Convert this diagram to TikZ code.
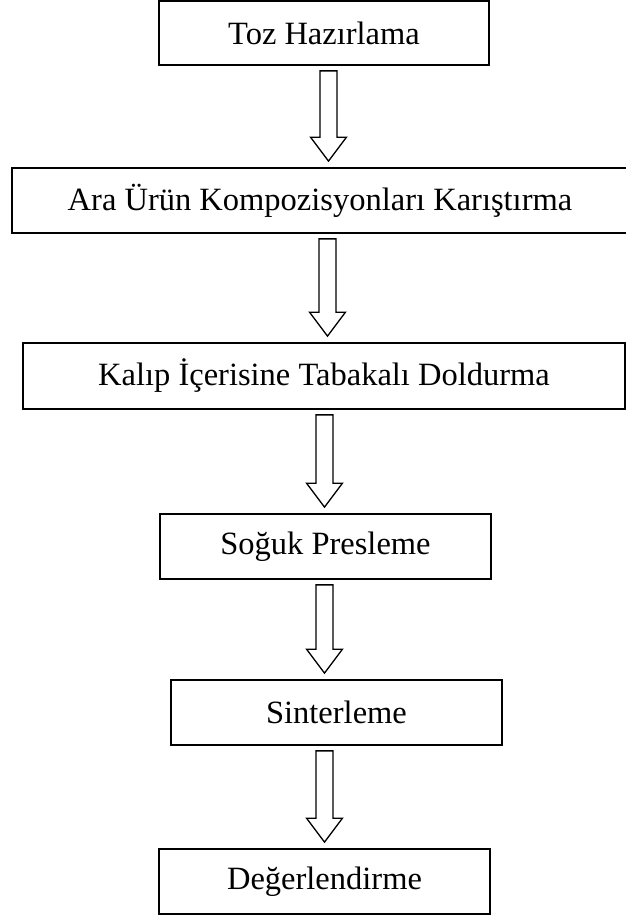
\documentclass[tikz,border=0pt]{standalone}
\usepackage{fontspec}
\setmainfont{Liberation Serif}
\usepackage{tikz}
\usetikzlibrary{calc}

% hollow block arrow from the bottom of one box to the top of the next
\newcommand{\flowarrow}[3][0pt]{%
  \draw[blockarr] let \p0=(axis), \p1=($(#2.south)+(0,5)$), \p2=($(#3.north)+(0,-6)$) in
    (\x0+#1-8.5pt,\y1) -- (\x0+#1+8.5pt,\y1) -- (\x0+#1+8.5pt,\y2+24pt)
    -- (\x0+#1+18pt,\y2+24pt) -- (\x0+#1,\y2) -- (\x0+#1-18pt,\y2+24pt)
    -- (\x0+#1-8.5pt,\y2+24pt) -- cycle;}

\begin{document}
\begin{tikzpicture}[
    x=1pt, y=-1pt,
    every node/.style={font=\fontsize{32.5}{38}\selectfont, align=center},
    stepbox/.style={rectangle, draw=black, line width=1.7pt, inner sep=0pt, minimum height=65pt},
    blockarr/.style={draw=black, line width=1.3pt, line join=miter, fill=white}
  ]
    \useasboundingbox (0,0) rectangle (626,919);
    \coordinate (axis) at (324.5,0);

    % process steps
    \node[stepbox, minimum width=330pt, minimum height=64pt] (toz) at (324,33) {Toz Hazırlama};
    \node[stepbox, minimum width=616pt] (kar) at (320,200.5) {Ara Ürün Kompozisyonları Karıştırma};
    \node[stepbox, minimum width=602pt, minimum height=66pt] (kal) at (324,376) {Kalıp İçerisine Tabakalı Doldurma};
    \node[stepbox, minimum width=331pt] (pres) at (325.5,546.5) {Soğuk Presleme};
    \node[stepbox, minimum width=331pt] (sint) at (336.5,712.5) {Sinterleme};
    \node[stepbox, minimum width=331pt] (deg) at (324.5,881.5) {Değerlendirme};

    % arrows
    \flowarrow[4pt]{toz}{kar}
    \flowarrow[3pt]{kar}{kal}
    \flowarrow{kal}{pres}
    \flowarrow{pres}{sint}
    \flowarrow{sint}{deg}
\end{tikzpicture}
\end{document}
